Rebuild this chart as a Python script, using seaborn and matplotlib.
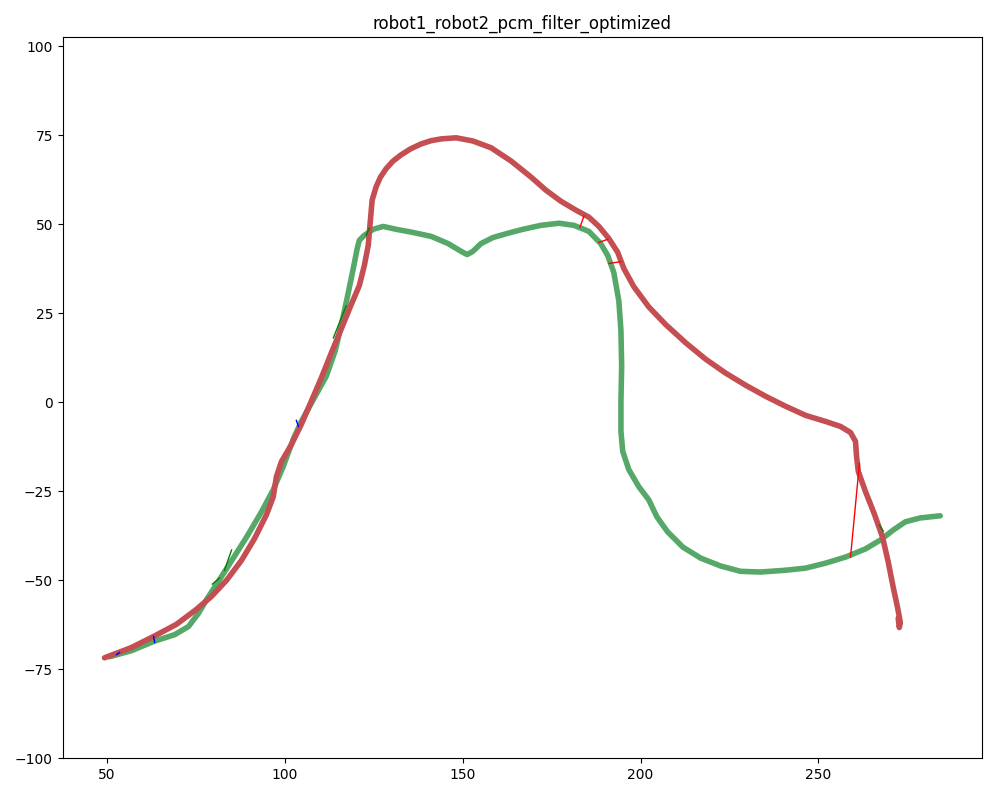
import numpy as np
import pandas as pd
import matplotlib
matplotlib.use("Agg")
import matplotlib.pyplot as plt
import seaborn as sns

# robot1 trajectory (green)
robot1_x = [50.8, 57.0, 63.2, 69.1, 73.0, 75.8, 78.1, 80.9, 84.5, 89.3, 93.5, 96.8, 99.6, 102.5,
            104.7, 108.1, 111.7, 114.2, 115.9, 117.6, 119.3, 120.4, 121.0, 122.4, 124.9, 127.7,
            131.3, 136.1, 141.2, 145.9, 149.6, 151.3, 152.9, 155.2, 158.6, 162.8, 167.0, 172.0,
            177.1, 181.3, 185.5, 188.8, 190.8, 192.5, 193.9, 194.5, 194.7, 194.5, 194.5, 195.0,
            196.7, 199.5, 202.3, 204.6, 207.6, 211.9, 216.9, 222.5, 228.1, 233.7, 240.7, 246.4,
            252.0, 257.6, 263.2, 267.4, 271.0, 274.4, 278.6, 284.2]
robot1_y = [-71.5, -69.8, -67.2, -65.3, -63.0, -59.3, -55.4, -51.1, -45.5, -37.9, -30.8, -24.6, -18.1, -10.2,
            -5.4, 0.8, 7.3, 14.4, 21.5, 29.4, 37.6, 43.2, 45.5, 46.9, 48.6, 49.4,
            48.6, 47.7, 46.6, 44.6, 42.4, 41.5, 42.4, 44.6, 46.3, 47.5, 48.6, 49.7,
            50.3, 49.7, 48.0, 44.6, 41.2, 36.4, 28.5, 20.1, 10.2, 0.3, -8.2, -13.8,
            -18.9, -23.7, -27.4, -32.2, -36.4, -40.7, -43.8, -46.0, -47.5, -47.7, -47.2, -46.6,
            -45.2, -43.5, -41.2, -38.7, -35.9, -33.6, -32.5, -31.9]

# robot2 trajectory (red)
robot2_x = [49.4, 57.0, 63.2, 69.6, 75.2, 79.5, 83.7, 87.9, 91.5, 94.9, 96.8, 97.7, 99.1, 101.9,
            104.7, 107.5, 110.3, 113.1, 115.9, 118.7, 121.0, 122.4, 123.5, 124.1, 124.6, 125.7,
            126.9, 128.5, 130.4, 132.7, 135.4, 138.4, 141.2, 144.0, 148.2, 152.9, 158.0, 163.6,
            169.2, 173.4, 177.6, 181.8, 185.5, 188.3, 191.1, 193.6, 195.3, 198.1, 202.3, 207.1,
            212.7, 218.3, 223.9, 229.5, 235.1, 240.7, 246.4, 252.0, 256.2, 259.0, 260.4, 260.7,
            261.2, 263.2, 265.7, 268.0, 269.6, 271.0, 272.2, 273.0, 272.7, 272.4]
robot2_y = [-71.8, -68.9, -65.8, -62.4, -58.2, -54.5, -50.0, -44.4, -38.4, -31.6, -26.6, -20.9, -16.7, -11.9,
            -6.2, 0.3, 6.8, 13.8, 20.6, 27.4, 32.8, 38.4, 44.1, 51.1, 56.8, 60.5,
            63.2, 65.6, 67.7, 69.5, 71.2, 72.6, 73.5, 74.0, 74.3, 73.4, 71.5, 67.8,
            63.3, 59.6, 56.5, 54.0, 52.0, 49.4, 46.0, 42.1, 37.6, 32.5, 26.8, 21.8,
            16.7, 12.1, 8.2, 4.8, 1.7, -1.1, -3.7, -5.4, -6.8, -8.5, -11.0, -15.3,
            -19.5, -25.1, -31.4, -37.9, -44.9, -52.0, -57.6, -61.9, -63.3, -60.7]

# inter-robot loop closures: (x1, y1, x2, y2)
closures_red = [(183.0, 49.2, 184.1, 52.3), (188.3, 44.9, 190.8, 45.8),
                (191.1, 39.0, 194.5, 39.5), (261.5, -17.2, 259.0, -43.5)]
closures_blue = [(52.8, -70.9, 53.6, -70.3), (63.2, -65.8, 63.5, -67.5),
                 (103.3, -5.1, 103.9, -6.8)]
closures_green = [(79.7, -51.1, 81.7, -49.4), (83.1, -47.2, 85.1, -41.5),
                  (113.7, 18.1, 117.3, 27.1), (122.9, 46.9, 123.8, 48.9),
                  (267.1, -34.5, 268.2, -36.2)]

deep = sns.color_palette("deep")

fig, ax = plt.subplots(figsize=(9.97, 7.97), dpi=100)

df1 = pd.DataFrame({"x": robot1_x, "y": robot1_y})
df2 = pd.DataFrame({"x": robot2_x, "y": robot2_y})
sns.lineplot(data=df1, x="x", y="y", sort=False, estimator=None, color=deep[2],
             linewidth=4, solid_capstyle="round", solid_joinstyle="round", ax=ax)
sns.lineplot(data=df2, x="x", y="y", sort=False, estimator=None, color=deep[3],
             linewidth=4, solid_capstyle="round", solid_joinstyle="round", ax=ax)

for lines, c in [(closures_red, "r"), (closures_blue, "b"), (closures_green, "g")]:
    for x1, y1, x2, y2 in lines:
        ax.plot([x1, x2], [y1, y2], color=c, linewidth=1)

ax.set_xlabel("")
ax.set_ylabel("")
ax.set_title("robot1_robot2_pcm_filter_optimized")
ax.axis("equal")

plt.tight_layout()
plt.savefig("out.png")
